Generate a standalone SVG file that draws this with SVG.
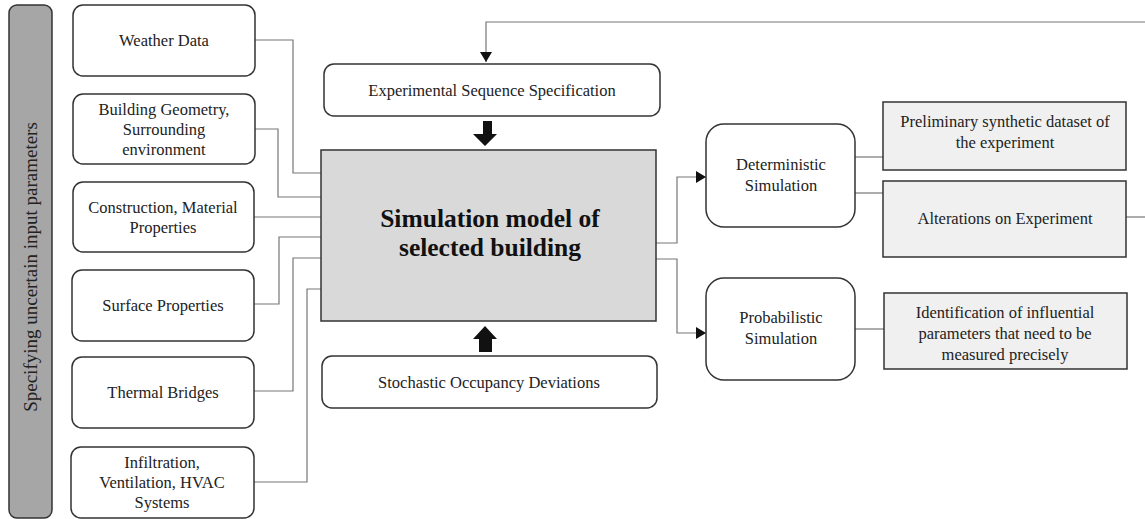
<svg xmlns="http://www.w3.org/2000/svg" width="1145" height="519" viewBox="0 0 1145 519">
<defs>
<style>
.box{fill:#fff;stroke:#333;stroke-width:1.5}
.gbox{fill:#f0f0f0;stroke:#333;stroke-width:1.5}
.main{fill:#d9d9d9;stroke:#333;stroke-width:1.5}
.t{font-family:"Liberation Serif","Times New Roman",serif;font-size:16.5px;fill:#222;text-anchor:middle}
.tb{font-family:"Liberation Serif","Times New Roman",serif;font-size:25.5px;font-weight:bold;fill:#111;text-anchor:middle}
.c{fill:none;stroke:#777;stroke-width:1.2}
.blk{fill:#111}
</style>
<marker id="ah" markerUnits="userSpaceOnUse" markerWidth="12" markerHeight="14" refX="10" refY="7" orient="auto">
<path d="M0,1 L10,7 L0,13 Z" fill="#111"/>
</marker>
</defs>

<g id="side-label">
<rect x="9" y="5" width="43" height="513" rx="8" fill="#a6a6a6" stroke="#333" stroke-width="1.5"/>
<text class="t" style="font-size:19px" transform="translate(37,267) rotate(-90)">Specifying uncertain input parameters</text>
</g>

<g id="connectors">
<path class="c" d="M255,40 H293 V173 H321"/>
<path class="c" d="M255,129 H278 V197 H321"/>
<path class="c" d="M254,217 H321"/>
<path class="c" d="M254,304 H279 V237 H321"/>
<path class="c" d="M254,391 H293 V258 H321"/>
<path class="c" d="M254,482 H307 V289 H321"/>
<path class="c" d="M656,243 H677 V177 H706" marker-end="url(#ah)"/>
<path class="c" d="M656,259 H677 V333 H706" marker-end="url(#ah)"/>
<path class="c" d="M855,157 H883"/>
<path class="c" d="M855,193 H883"/>
<path class="c" d="M855,329 H884"/>
<path class="c" d="M1126,217 H1145"/>
<path class="c" d="M1145,22 H486 V62" marker-end="url(#ah)"/>
<path class="blk" d="M483,121 H492 V134 H497 L485,146 L473,134 H483 Z"/>
<path class="blk" d="M479,352 H492 V339 H497 L485,326 L473,339 H479 Z"/>
</g>

<g id="weather">
<rect class="box" x="73" y="5" width="182" height="71" rx="10"/>
<text class="t" x="164" y="46">Weather Data</text>
</g>
<g id="geometry">
<rect class="box" x="73" y="94" width="182" height="70" rx="10"/>
<text class="t" x="164" y="115">Building Geometry,</text>
<text class="t" x="164" y="135">Surrounding</text>
<text class="t" x="164" y="155">environment</text>
</g>
<g id="construction">
<rect class="box" x="73" y="182" width="181" height="70" rx="10"/>
<text class="t" x="163" y="213">Construction, Material</text>
<text class="t" x="163" y="233">Properties</text>
</g>
<g id="surface">
<rect class="box" x="72" y="270" width="182" height="71" rx="10"/>
<text class="t" x="163" y="311">Surface Properties</text>
</g>
<g id="thermal">
<rect class="box" x="72" y="357" width="182" height="71" rx="10"/>
<text class="t" x="163" y="398">Thermal Bridges</text>
</g>
<g id="infiltration">
<rect class="box" x="71" y="447" width="183" height="71" rx="10"/>
<text class="t" x="162" y="468">Infiltration,</text>
<text class="t" x="162" y="488">Ventilation, HVAC</text>
<text class="t" x="162" y="508">Systems</text>
</g>

<g id="experimental">
<rect class="box" x="324" y="64" width="336" height="52" rx="10"/>
<text class="t" x="492" y="96">Experimental Sequence Specification</text>
</g>
<g id="main">
<rect class="main" x="321" y="150" width="335" height="171"/>
<text class="tb" x="490" y="227">Simulation model of</text>
<text class="tb" x="490" y="256">selected building</text>
</g>
<g id="stochastic">
<rect class="box" x="322" y="356" width="335" height="52" rx="10"/>
<text class="t" x="489" y="388">Stochastic Occupancy Deviations</text>
</g>

<g id="deterministic">
<rect class="box" x="706" y="124" width="149" height="103" rx="18"/>
<text class="t" x="781" y="170">Deterministic</text>
<text class="t" x="781" y="191">Simulation</text>
</g>
<g id="probabilistic">
<rect class="box" x="706" y="278" width="149" height="102" rx="18"/>
<text class="t" x="781" y="323">Probabilistic</text>
<text class="t" x="781" y="344">Simulation</text>
</g>
<g id="preliminary">
<rect class="gbox" x="883" y="102" width="243" height="68"/>
<text class="t" x="1005" y="127">Preliminary synthetic dataset of</text>
<text class="t" x="1005" y="148">the experiment</text>
</g>
<g id="alterations">
<rect class="gbox" x="883" y="181" width="243" height="76"/>
<text class="t" x="1005" y="224">Alterations on Experiment</text>
</g>
<g id="identification">
<rect class="gbox" x="884" y="293" width="243" height="76"/>
<text class="t" x="1005" y="318">Identification of influential</text>
<text class="t" x="1005" y="339">parameters that need to be</text>
<text class="t" x="1005" y="360">measured precisely</text>
</g>
</svg>
